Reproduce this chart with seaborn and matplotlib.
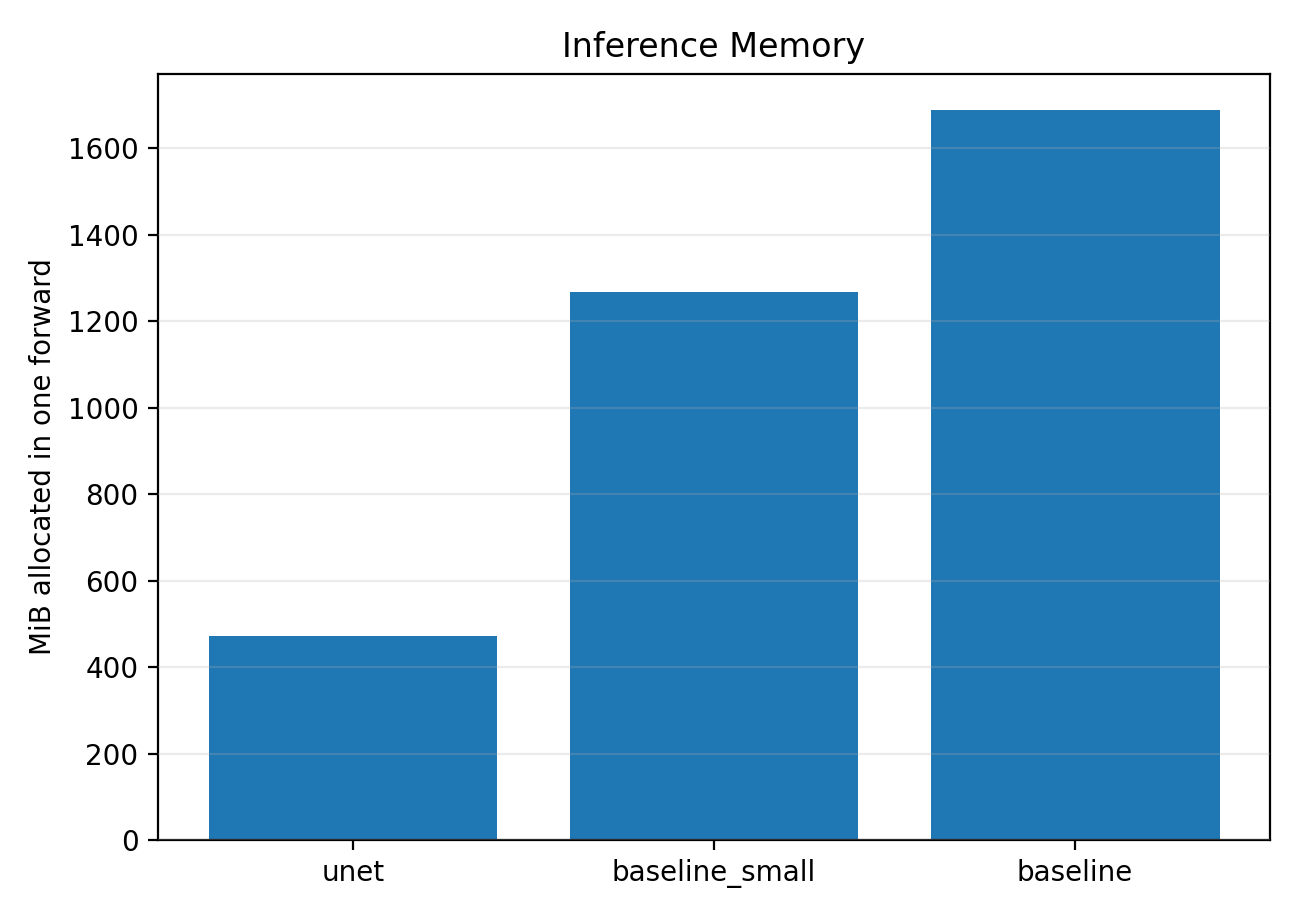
import matplotlib
matplotlib.use("Agg")
import matplotlib.pyplot as plt
import pandas as pd
import seaborn as sns

# Memory per forward pass (MiB)
models = ["unet", "baseline_small", "baseline"]
mib_allocated = [472, 1268, 1688]

df = pd.DataFrame({"model": models, "mib": mib_allocated})

fig = plt.figure(figsize=(6.5, 4.595), dpi=200)
ax = fig.add_axes([0.1215, 0.086, 0.8555, 0.8335])

sns.barplot(data=df, x="model", y="mib", color="#1f77b4", saturation=1,
            width=0.8, ax=ax)

ax.set_xlim(-0.54, 2.54)
ax.set_ylim(0, max(mib_allocated) * 1.05)
ax.set_title("Inference Memory")
ax.set_xlabel("")
ax.set_ylabel("MiB allocated in one forward")
ax.grid(axis="y", alpha=0.25)
ax.set_axisbelow(False)

fig.savefig("out.png", dpi=200)
